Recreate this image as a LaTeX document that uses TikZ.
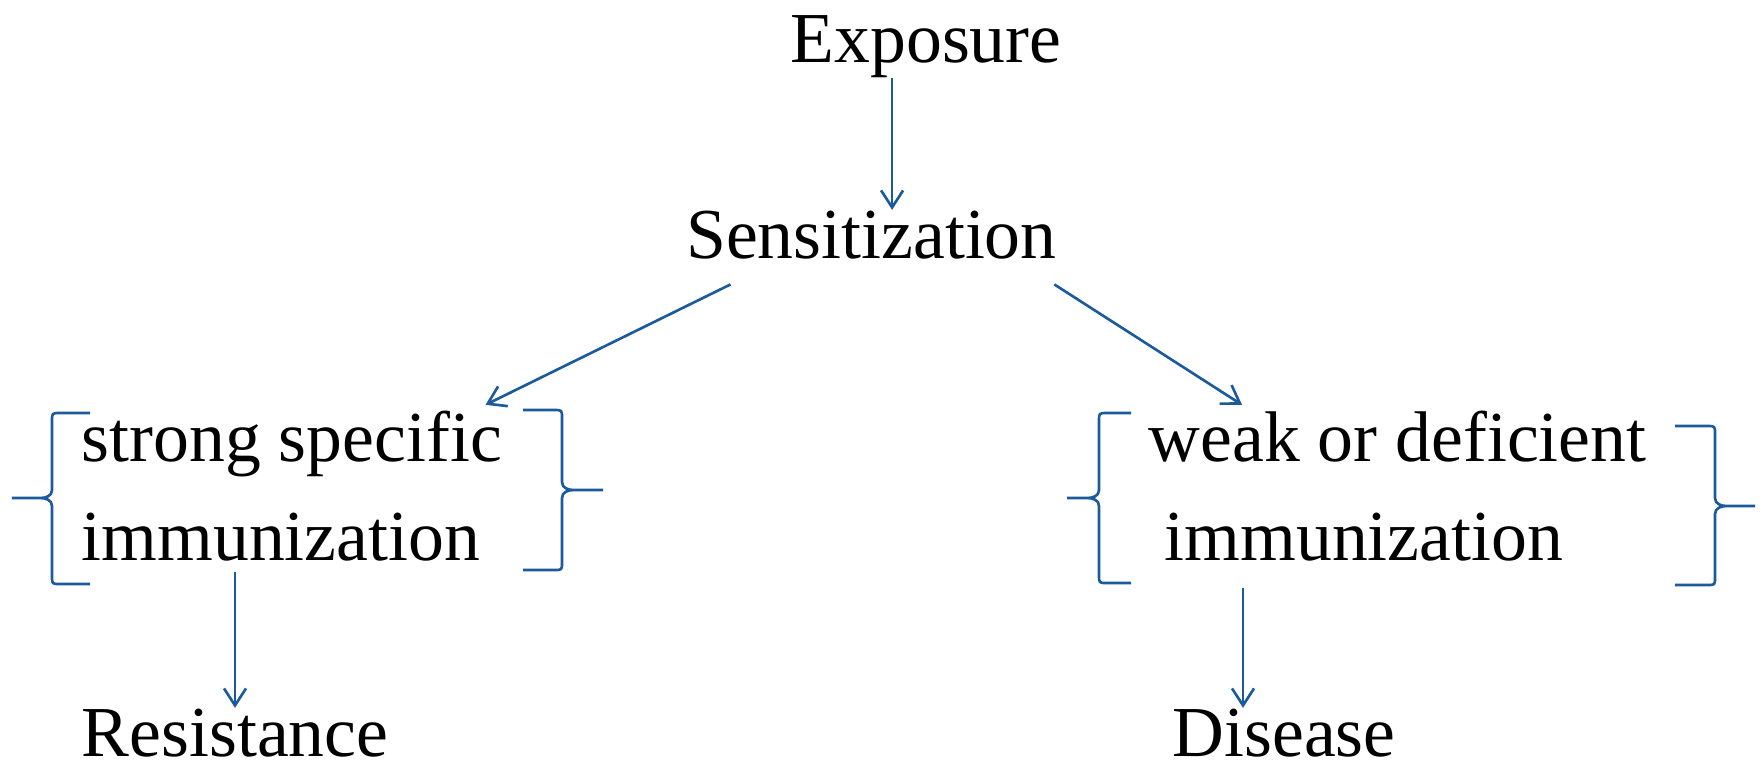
\documentclass[tikz,border=0pt]{standalone}
\usepackage{fontspec}
\setmainfont{Liberation Serif}
\usepackage{xcolor}
\definecolor{linkblue}{HTML}{1B5A9C}
\usepackage{tikz}
\usetikzlibrary{arrows.meta, positioning}

\begin{document}
\begin{tikzpicture}[
        every node/.style={inner sep=0pt, anchor=base west,
                font=\fontsize{20.4}{24}\selectfont},
        arr/.style={draw=linkblue, line width=0.75pt,
                -{Straight Barb[length=1.7mm,width=2.2mm]}},
        bracket/.style={draw=linkblue, line width=0.75pt}]
        \useasboundingbox[fill=white] (0,0) rectangle (17.62,-7.61);

        %----------------  top  ----------------
        \node (expo) at (7.90,-0.62) {Exposure};
        \node (sens) at (6.855,-2.58) {Sensitization};
        \draw[arr] ([xshift=-3.4mm]expo.south) -- ([xshift=-3.4mm]expo.south |- sens.north);

        %----------------  left  ----------------
        \node (strong1) at (0.81,-4.61) {strong specific};
        \node (strong2) at (0.81,-5.60) {immunization};
        \draw[arr] ([shift={(0.45,-0.25)}]sens.south west) -- ([shift={(-0.17,0.05)}]strong1.north east);
        \draw[bracket] (0.90,-4.13) -- (0.60,-4.13) .. controls (0.52,-4.13) .. (0.52,-4.21)
                -- (0.52,-4.90) .. controls (0.52,-4.96) and (0.46,-4.98) .. (0.40,-4.98) -- (0.12,-4.98)
                (0.12,-4.98) -- (0.40,-4.98) .. controls (0.46,-4.98) and (0.52,-5.00) .. (0.52,-5.06)
                -- (0.52,-5.76) .. controls (0.52,-5.84) .. (0.60,-5.84) -- (0.90,-5.84);
        \draw[bracket] (5.23,-4.10) -- (5.54,-4.10) .. controls (5.62,-4.10) .. (5.62,-4.18)
                -- (5.62,-4.82) .. controls (5.62,-4.88) and (5.68,-4.90) .. (5.74,-4.90) -- (6.03,-4.90)
                (6.03,-4.90) -- (5.74,-4.90) .. controls (5.68,-4.90) and (5.62,-4.92) .. (5.62,-4.98)
                -- (5.62,-5.62) .. controls (5.62,-5.70) .. (5.54,-5.70) -- (5.23,-5.70);

        %----------------  right  ----------------
        \node (weak1) at (11.48,-4.61) {weak or deficient};
        \node (weak2) at (11.64,-5.60) {immunization};
        \draw[arr] ([shift={(-0.03,-0.25)}]sens.south east) -- ([shift={(0.94,0.05)}]weak1.north west);
        \draw[bracket] (11.31,-4.13) -- (11.07,-4.13) .. controls (10.99,-4.13) .. (10.99,-4.21)
                -- (10.99,-4.90) .. controls (10.99,-4.96) and (10.93,-4.98) .. (10.87,-4.98) -- (10.67,-4.98)
                (10.67,-4.98) -- (10.87,-4.98) .. controls (10.93,-4.98) and (10.99,-5.00) .. (10.99,-5.06)
                -- (10.99,-5.75) .. controls (10.99,-5.83) .. (11.07,-5.83) -- (11.31,-5.83);
        \draw[bracket] (16.75,-4.26) -- (17.07,-4.26) .. controls (17.15,-4.26) .. (17.15,-4.34)
                -- (17.15,-4.98) .. controls (17.15,-5.04) and (17.21,-5.06) .. (17.27,-5.06) -- (17.55,-5.06)
                (17.55,-5.06) -- (17.27,-5.06) .. controls (17.21,-5.06) and (17.15,-5.08) .. (17.15,-5.14)
                -- (17.15,-5.77) .. controls (17.15,-5.85) .. (17.07,-5.85) -- (16.75,-5.85);

        %----------------  bottom  ----------------
        \node (resist) at (0.81,-7.56) {Resistance};
        \node (disease) at (11.72,-7.56) {Disease};
        \coordinate (leftfoot) at ([shift={(1.54,-0.11)}]strong2.south west);
        \coordinate (rightfoot) at ([shift={(0.79,-0.27)}]weak2.south west);
        \draw[arr] (leftfoot) -- (leftfoot |- resist.north);
        \draw[arr] (rightfoot) -- (rightfoot |- disease.north);
\end{tikzpicture}
\end{document}
